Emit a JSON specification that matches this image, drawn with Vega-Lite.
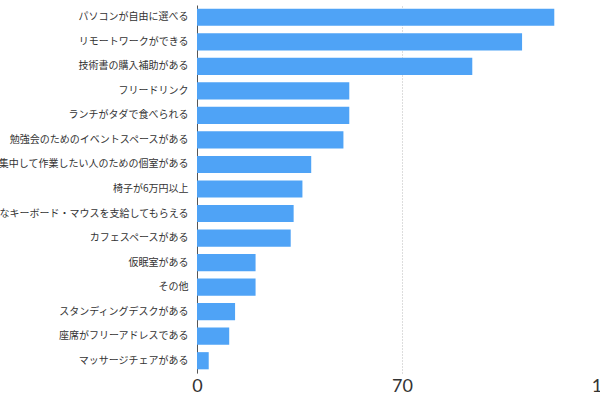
{
  "$schema": "https://vega.github.io/schema/vega-lite/v6.json",
  "autosize": {"type": "none"},
  "padding": {"left": 197, "top": 5, "right": 0, "bottom": 24},
  "width": 410,
  "height": 368,
  "background": "white",
  "config": {"view": {"stroke": null}},
  "data": {"values": [
    {"item": "パソコンが自由に選べる", "count": 122},
    {"item": "リモートワークができる", "count": 111},
    {"item": "技術書の購入補助がある", "count": 94},
    {"item": "フリードリンク", "count": 52},
    {"item": "ランチがタダで食べられる", "count": 52},
    {"item": "勉強会のためのイベントスペースがある", "count": 50},
    {"item": "集中して作業したい人のための個室がある", "count": 39},
    {"item": "椅子が6万円以上", "count": 36},
    {"item": "好きなキーボード・マウスを支給してもらえる", "count": 33},
    {"item": "カフェスペースがある", "count": 32},
    {"item": "仮眠室がある", "count": 20},
    {"item": "その他", "count": 20},
    {"item": "スタンディングデスクがある", "count": 13},
    {"item": "座席がフリーアドレスである", "count": 11},
    {"item": "マッサージチェアがある", "count": 4}
  ]},
  "mark": {"type": "bar", "color": "#4fa3f6"},
  "encoding": {
    "y": {
      "field": "item", "type": "nominal", "sort": null,
      "scale": {"paddingInner": 0.3, "paddingOuter": 0.15},
      "axis": {
        "title": null, "ticks": false, "grid": false,
        "domain": true, "domainColor": "#555", "domainWidth": 1,
        "labelFont": "Noto Sans CJK JP", "labelFontSize": 10, "labelColor": "#333",
        "labelPadding": 9, "labelLimit": 400
      }
    },
    "x": {
      "field": "count", "type": "quantitative",
      "scale": {"domain": [0, 140], "nice": false},
      "axis": {
        "title": null, "values": [0, 70, 140], "ticks": false, "domain": false,
        "grid": true, "gridColor": "#bbb", "gridDash": [1, 2], "gridWidth": 1,
        "labelFont": "Lato", "labelFontSize": 18, "labelColor": "#333",
        "labelPadding": 4, "labelFlush": false, "labelOverlap": false, "labelBound": false
      }
    }
  }
}
